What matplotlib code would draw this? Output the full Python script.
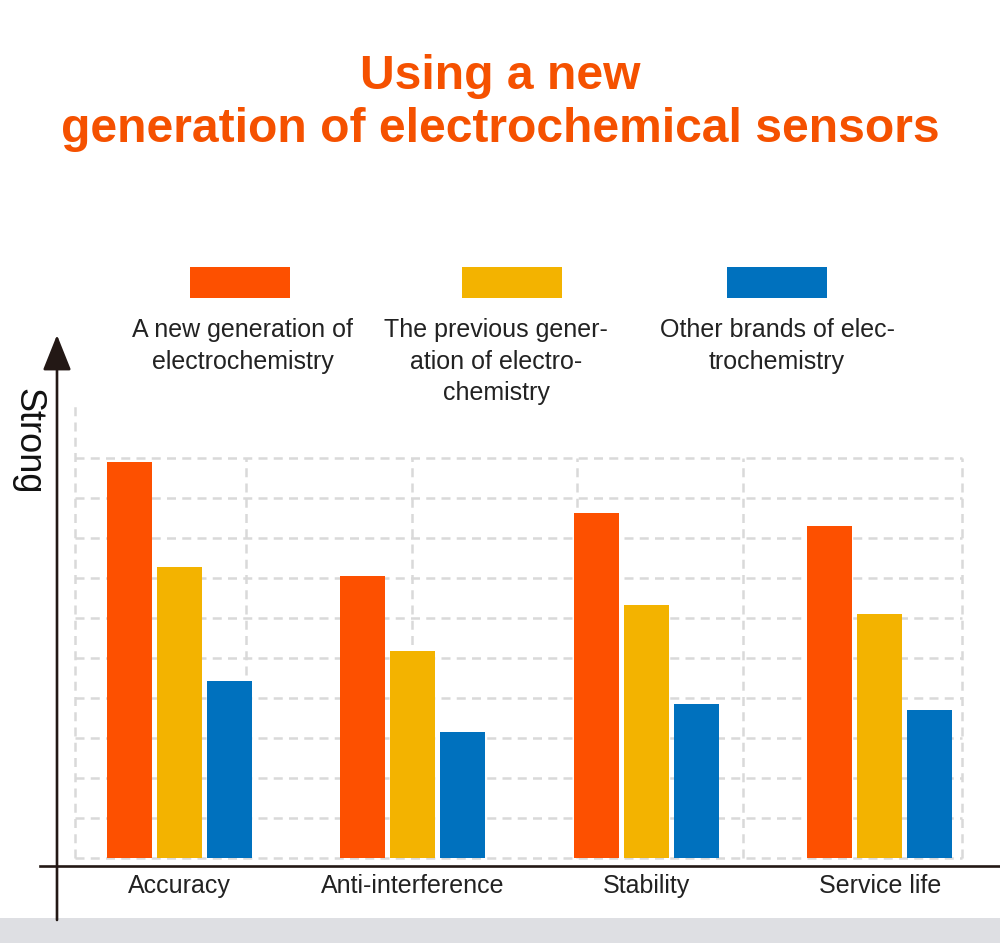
"""Bar chart: new generation of electrochemical sensors vs older ones."""

import matplotlib

matplotlib.use("Agg", force=True)
import matplotlib.pyplot as plt
from matplotlib.patches import Rectangle

categories = ["Accuracy", "Anti-interference", "Stability", "Service life"]
series_names = [
    "A new generation of\nelectrochemistry",
    "The previous gener-\nation of electro-\nchemistry",
    "Other brands of elec-\ntrochemistry",
]
new_generation = [9.9, 7.05, 8.62, 8.3]
previous_generation = [7.28, 5.18, 6.32, 6.1]
other_brands = [4.42, 3.15, 3.85, 3.7]

colors = ["#FD5000", "#F3B300", "#0071BE"]
title_color = "#F55100"
text_color = "#222222"
grid_color = "#D9D9D9"

W, H = 1000, 943
plt.rcParams["font.family"] = ["Liberation Sans", "DejaVu Sans"]

fig = plt.figure(figsize=(W / 100, H / 100), dpi=100)

# overlay in pixel coordinates for title, legend, decorations
over = fig.add_axes([0, 0, 1, 1], zorder=0)
over.set_xlim(0, W)
over.set_ylim(H, 0)
over.axis("off")

over.text(500, 103, "Using a new\ngeneration of electrochemical sensors",
          ha="center", va="center", fontsize=34.6, fontweight="bold",
          color=title_color, linespacing=1.25)

patch_centers = [240, 512, 777]
text_centers = [243, 496, 777]
for name, color, pc, tc in zip(series_names, colors, patch_centers, text_centers):
    over.add_patch(Rectangle((pc - 50, 267), 100, 31, color=color, lw=0))
    over.text(tc, 318, name, ha="center", va="top", fontsize=18,
              color=text_color, linespacing=1.4)

over.text(28, 441, "Strong", rotation=270, ha="center", va="center",
          fontsize=26, color="#111111")

over.add_patch(Rectangle((0, 918), W, 25, color="#DEDFE3", lw=0))

# main chart, data axes: 1 unit = 40 px, bars start 8 px above the x axis line
left_px, right_px, bottom_px, top_px = 57, 1000, 866, 335
ax = fig.add_axes([left_px / W, (H - bottom_px) / H,
                   (right_px - left_px) / W, (bottom_px - top_px) / H], zorder=1)
ax.patch.set_alpha(0)

x0_px, step_px = 179.2, 233.5


def px_to_x(px):
    return (px - x0_px) / step_px


ax.set_xlim(px_to_x(left_px), px_to_x(right_px))
ax.set_ylim(-0.2, (bottom_px - top_px) / 40 - 0.2)

# dashed grid
grid_kw = dict(color=grid_color, linewidth=1.8, linestyle=(0, (3.6, 2.5)), zorder=1)
for level in range(11):
    ax.plot([px_to_x(75), px_to_x(962)], [level, level], **grid_kw)
for i, gx in enumerate([75, 246, 412, 577, 743, 962]):
    ax.plot([px_to_x(gx), px_to_x(gx)], [0, 11.4 if i == 0 else 10], **grid_kw)

positions = list(range(len(categories)))
bar_width = 45 / step_px
offset = 50 / step_px
for k, (values, color) in enumerate(
        zip([new_generation, previous_generation, other_brands], colors)):
    ax.bar([p + (k - 1) * offset for p in positions], values, width=bar_width,
           color=color, zorder=3, linewidth=0)

ax.set_xticks(positions, categories)
ax.tick_params(axis="x", length=0, pad=6, labelsize=18, labelcolor=text_color)
ax.set_yticks([])
for spine in ax.spines.values():
    spine.set_visible(False)

# axis lines
axis_color = "#231815"
ax.plot([(40 - left_px) / (right_px - left_px), 1], [0, 0], transform=ax.transAxes,
        color=axis_color, linewidth=1.9, clip_on=False, zorder=4)
ax.annotate("", xy=(0, 1), xytext=(0, (bottom_px - 920) / (bottom_px - top_px)),
            xycoords="axes fraction",
            arrowprops=dict(arrowstyle="-|>,head_length=0.55,head_width=0.22",
                            mutation_scale=40, color=axis_color, linewidth=1.9,
                            shrinkA=0, shrinkB=0))

fig.savefig("out.png", dpi=100)
